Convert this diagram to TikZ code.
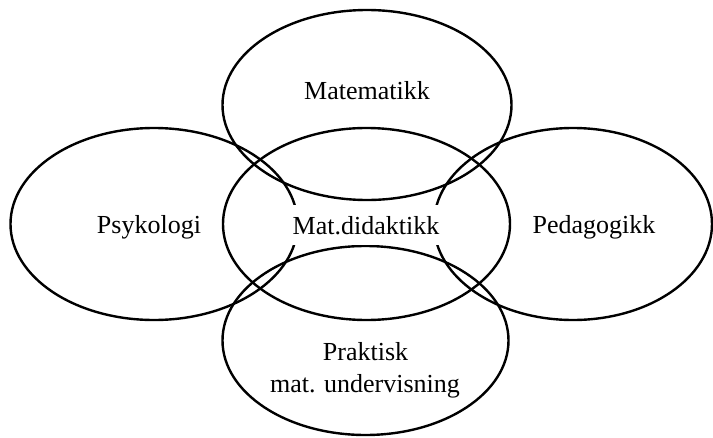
\documentclass[tikz,border=0pt]{standalone}
\usepackage{fontspec}
\setmainfont{Liberation Serif}
\begin{document}
\begin{tikzpicture}[x=1pt,y=-1pt,
  ring/.style={draw=black,line width=2.4pt},
  lbl/.style={anchor=base,inner sep=0pt,font=\fontsize{26}{32}\selectfont,align=center},
  centrelbl/.style={anchor=base,fill=white,inner xsep=4pt,inner ysep=11pt,text height=18pt,text depth=0pt,font=\fontsize{26}{32}\selectfont}]
\useasboundingbox (0,0) rectangle (713,437);
\coordinate (ctop) at (367,105);
\coordinate (cleft) at (154,224);
\coordinate (cmid) at (366.5,224);
\coordinate (cright) at (573,224);
\coordinate (cbot) at (365.5,340.5);
\draw[ring] (ctop) ellipse [x radius=144.5, y radius=95];
\draw[ring] (cleft) ellipse [x radius=143.5, y radius=96];
\draw[ring] (cmid) ellipse [x radius=143.5, y radius=96];
\draw[ring] (cright) ellipse [x radius=139, y radius=96];
\draw[ring] (cbot) ellipse [x radius=143, y radius=94.5];
\node[lbl] (mat) at (367,99) {Matematikk};
\node[lbl] (psy) at (149,233) {Psykologi};
\node[lbl] (ped) at (594,233) {Pedagogikk};
\node[centrelbl] (did) at (366,234) {Mat.didaktikk};
\node[lbl] (prak) at (365.5,360) {Praktisk};
\node[lbl] (und) at (365,392) {mat. undervisning};
\end{tikzpicture}
\end{document}
